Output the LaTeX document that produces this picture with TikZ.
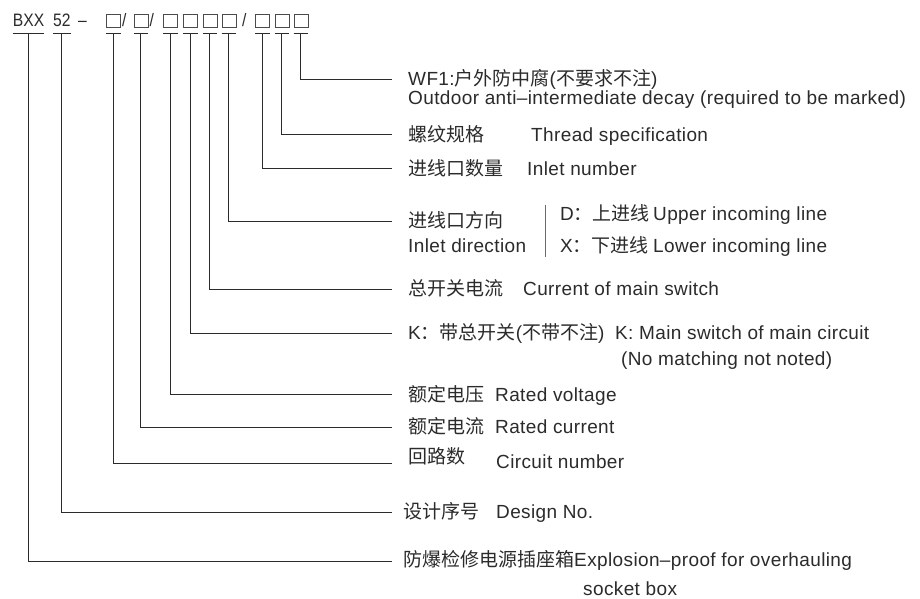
\documentclass[tikz,border=0pt]{standalone}
\usepackage{fontspec}
\setmainfont{Liberation Sans}[LetterSpace=2]
\newfontfamily\ttlfont{Liberation Sans}[FakeStretch=0.87]
\newfontfamily\cjk{Noto Sans CJK SC}
\definecolor{ink}{HTML}{2B2B2B}
\begin{document}
\begin{tikzpicture}[x=1pt,y=-1pt,
  lbl/.style={inner sep=0pt, anchor=base west, text=ink, font=\fontsize{19}{23}\selectfont},
  ttl/.style={inner sep=0pt, anchor=base west, text=ink, font=\ttlfont\fontsize{18}{21}\selectfont},
  codebox/.style={draw=ink!85, line width=0.8pt, minimum width=14pt, minimum height=12.8pt, inner sep=0pt, anchor=north west},
  conn/.style={draw=ink, line width=1pt},
  sep/.style={draw=ink!70, line width=1pt}]
\useasboundingbox[fill=white] (0,0) rectangle (920,599);

% ---- code line ----
\node[ttl] (c1) at (12.7,26.7) {BXX};
\node[ttl] (c2) at (53,26.7) {52};
\node[ttl] (dash) at (78,26.7) {–};
\node[codebox] (b1) at (106,14) {};
\node[ttl] (s1) at (122,26.7) {/};
\node[codebox] (b2) at (133.5,14) {};
\node[ttl] (s2) at (149.5,26.7) {/};
\node[codebox] (b3) at (163,14) {};
\node[codebox] (b4) at (183,14) {};
\node[codebox] (b5) at (202.5,14) {};
\node[codebox] (b6) at (221.5,14) {};
\node[ttl] (s3) at (242,26.7) {/};
\node[codebox] (b7) at (255,14) {};
\node[codebox] (b8) at (274.5,14) {};
\node[codebox] (b9) at (293.5,14) {};

\coordinate (bar) at (0,33.3);

% ---- labels ----
\node[lbl] (l1) at (408,85.3) {WF1:{\cjk 户外防中腐}({\cjk 不要求不注})};
\node[lbl] (l1b) at (408,105) {Outdoor anti–intermediate decay (required to be marked)};
\node[lbl] (l2) at (408,141) {\cjk 螺纹规格};
\node[lbl] (l2b) at (531,141) {Thread specification};
\node[lbl] (l3) at (408,175) {\cjk 进线口数量};
\node[lbl] (l3b) at (527,175) {Inlet number};
\node[lbl] (l4) at (408,227) {\cjk 进线口方向};
\node[lbl] (l4b) at (408,252) {Inlet direction};
\coordinate (sepT) at (545.5,205);
\coordinate (sepB) at (545.5,257);
\draw[sep] (sepT) -- (sepB);
\node[lbl] (l4c) at (560,220) {D{\cjk ：上进线}};
\node[lbl] (l4d) at (653,220) {Upper incoming line};
\node[lbl] (l4e) at (560,252) {X{\cjk ：下进线}};
\node[lbl] (l4f) at (653,252) {Lower incoming line};
\node[lbl] (l5) at (408,295) {\cjk 总开关电流};
\node[lbl] (l5b) at (523,295) {Current of main switch};
\node[lbl] (l6) at (408,339) {K{\cjk ：带总开关}({\cjk 不带不注})};
\node[lbl] (l6b) at (615,339) {K: Main switch of main circuit};
\node[lbl] (l6c) at (621,365) {(No matching not noted)};
\node[lbl] (l7) at (408,401) {\cjk 额定电压};
\node[lbl] (l7b) at (495,401) {Rated voltage};
\node[lbl] (l8) at (408,433) {\cjk 额定电流};
\node[lbl] (l8b) at (495,433) {Rated current};
\node[lbl] (l9) at (408,463) {\cjk 回路数};
\node[lbl] (l9b) at (496,468) {Circuit number};
\node[lbl] (l10) at (403,518) {\cjk 设计序号};
\node[lbl] (l10b) at (496,518) {Design No.};
\node[lbl] (l11) at (403,566) {{\cjk 防爆检修电源插座箱}Explosion–proof for overhauling};
\node[lbl] (l11b) at (583,595) {socket box};

% ---- line ends ----
\coordinate (e1) at (392,79.3);
\coordinate (e2) at (392,134.7);
\coordinate (e3) at (392,168.7);
\coordinate (e4) at (392,221.7);
\coordinate (e5) at (392,289.3);
\coordinate (e6) at (392,333.3);
\coordinate (e7) at (392,394.7);
\coordinate (e8) at (392,427);
\coordinate (e9) at (392,463.7);
\coordinate (e10) at (392,512.3);
\coordinate (e11) at (392,561.3);

% ---- T bars and connectors ----
\foreach \n/\e in {c1/e11, c2/e10, b1/e9, b2/e8, b3/e7, b4/e6, b5/e5, b6/e4, b7/e3, b8/e2, b9/e1}{
  \draw[conn] (\n.west |- bar) -- (\n.east |- bar);
  \draw[conn] (\n.south |- bar) |- (\e);
}
\end{tikzpicture}
\end{document}
